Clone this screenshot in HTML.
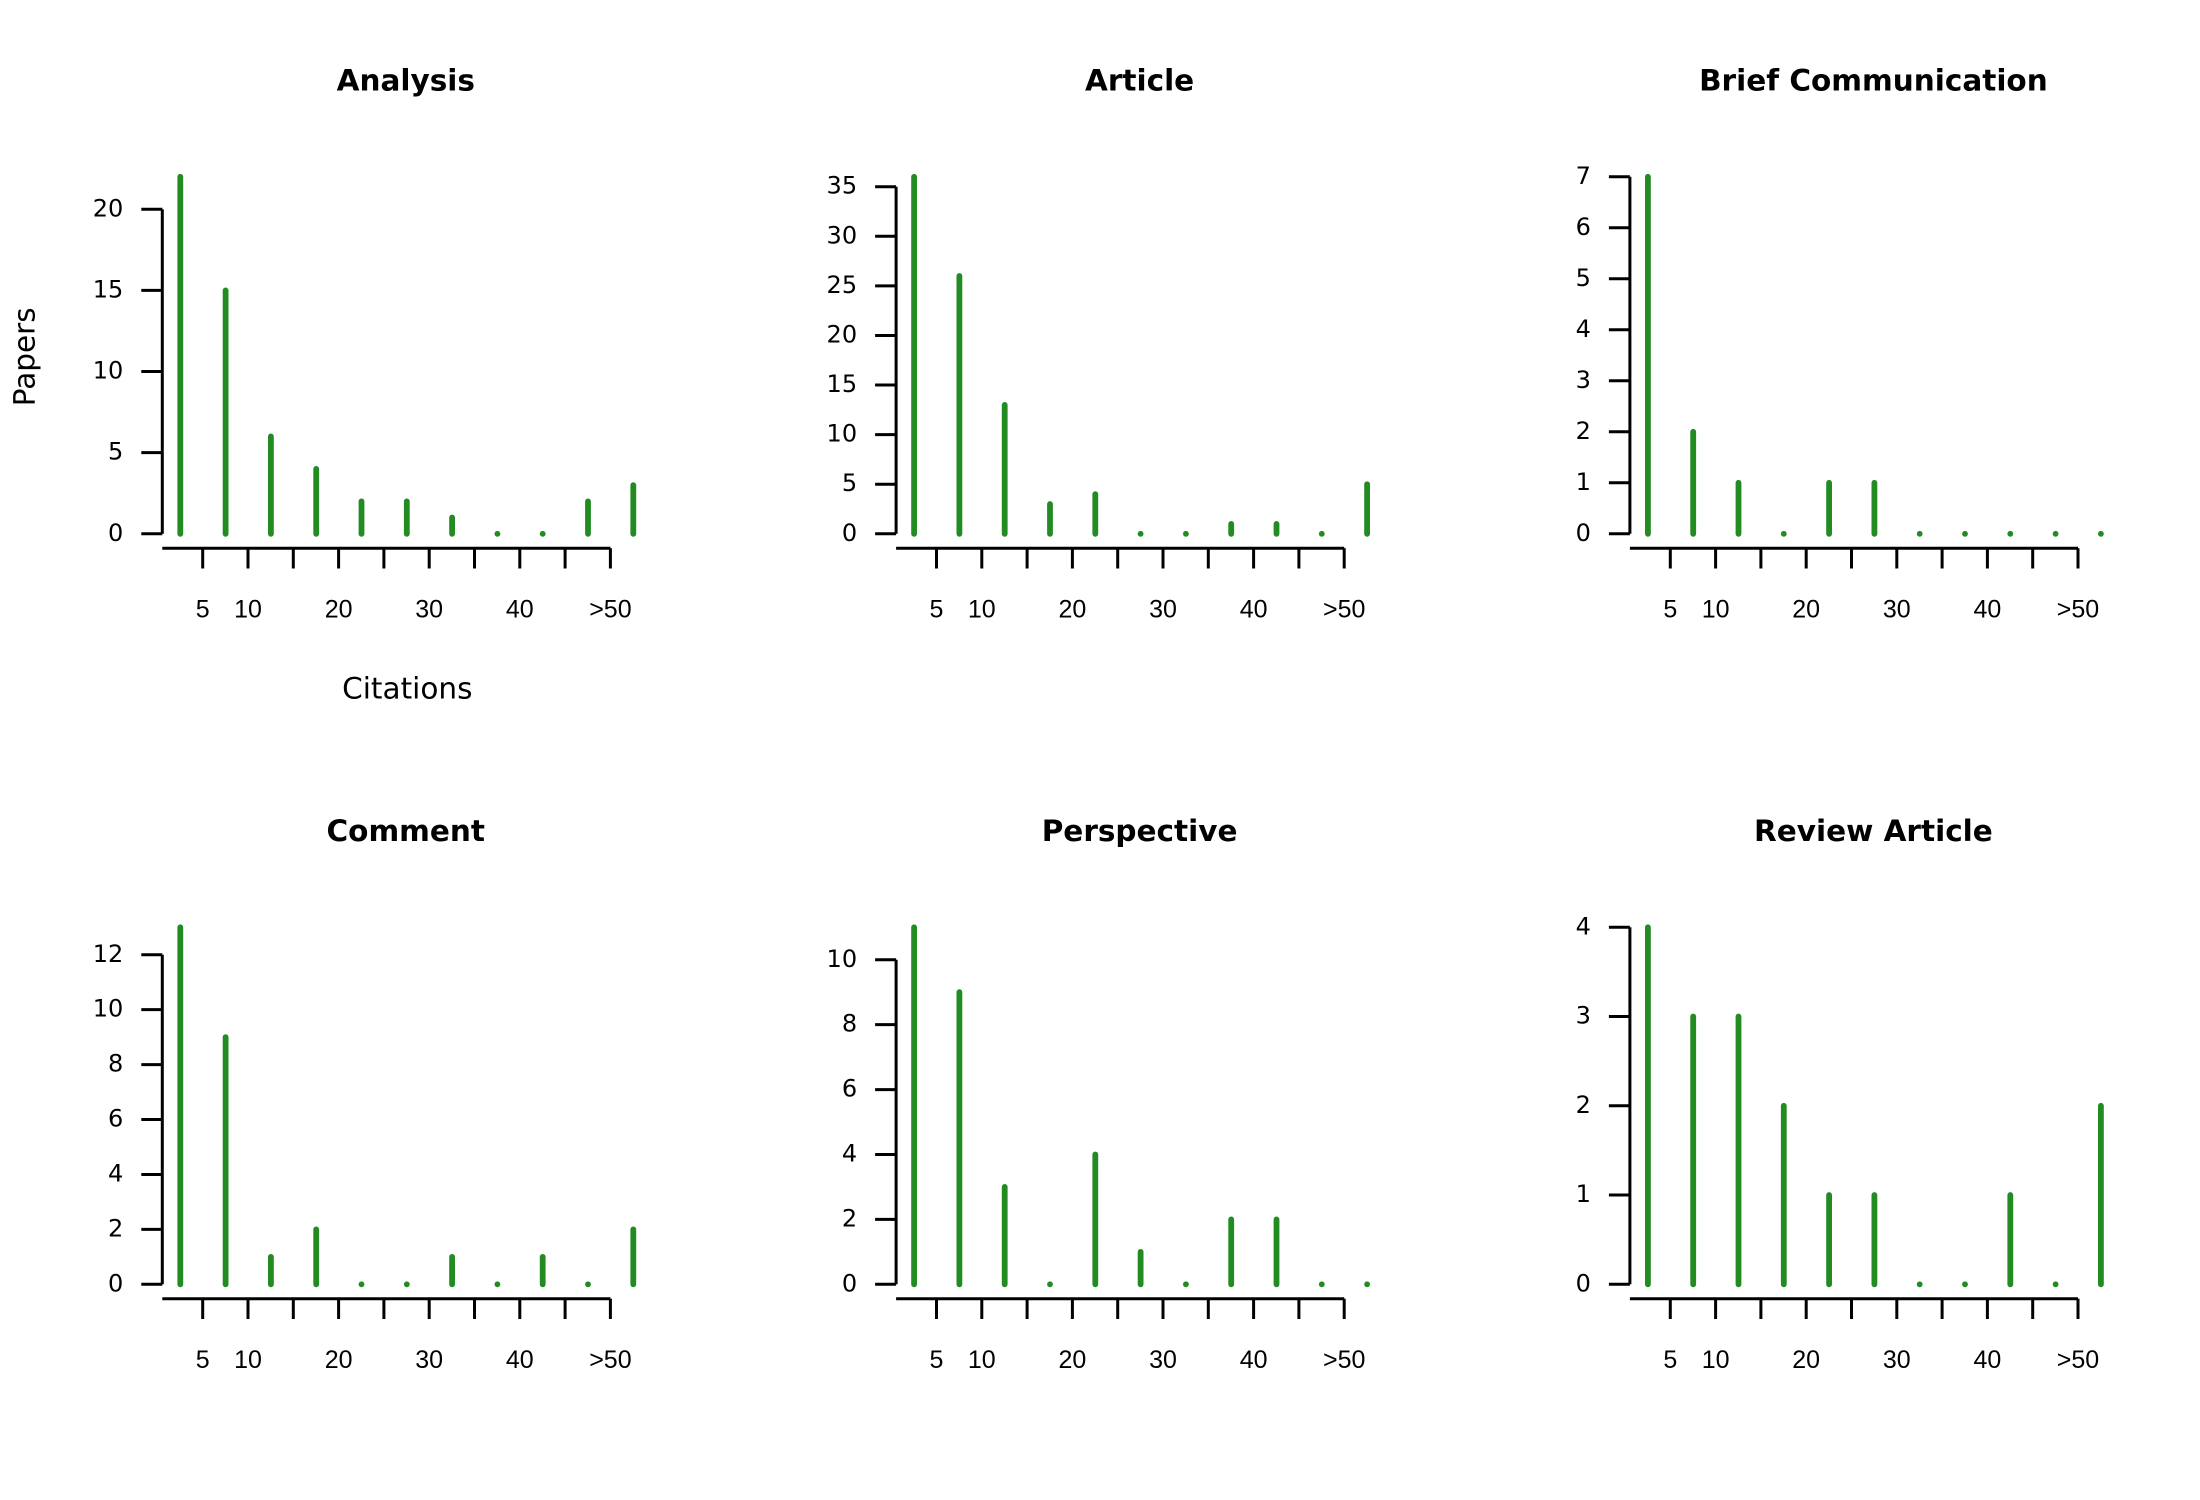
<!DOCTYPE html>
<html><head><meta charset="utf-8"><style>
html,body{margin:0;padding:0;background:#fff;}
svg{display:block;}
</style></head><body>
<svg id="chart" xmlns="http://www.w3.org/2000/svg" width="2200" height="1500" viewBox="0 0 2200 1500"></svg>
<script>
const panelTitles = ["Analysis", "Article", "Brief Communication", "Comment", "Perspective", "Review Article"];
const binLabels = ["0-5","5-10","10-15","15-20","20-25","25-30","30-35","35-40","40-45","45-50",">50"];
const analysisValues = [22,15,6,4,2,2,1,0,0,2,3];
const articleValues = [36,26,13,3,4,0,0,1,1,0,5];
const briefValues = [7,2,1,0,1,1,0,0,0,0,0];
const commentValues = [13,9,1,2,0,0,1,0,1,0,2];
const perspectiveValues = [11,9,3,0,4,1,0,2,2,0,0];
const reviewValues = [4,3,3,2,1,1,0,0,1,0,2];
const yTickSteps = [5,5,1,2,2,1];
const xTickLabels = ["5","10","","20","","30","","40","",">50"];

const seriesList = [analysisValues, articleValues, briefValues, commentValues, perspectiveValues, reviewValues];
const NS = "http://www.w3.org/2000/svg";
const svg = document.getElementById("chart");
function mk(tag, attrs, parent){
  const e = document.createElementNS(NS, tag);
  for (const k in attrs) e.setAttribute(k, attrs[k]);
  (parent||svg).appendChild(e);
  return e;
}
const SANS = "'DejaVu Sans', 'Liberation Sans', sans-serif";
const ARIAL = "'Liberation Sans', sans-serif";

seriesList.forEach((vals, p) => {
  const col = p % 3, row = Math.floor(p / 3);
  const ax = 162.3 + col * 733.8;
  const y0 = 533.8 + row * 750.5;
  const maxV = Math.max(...vals);
  const yScale = v => y0 - v / maxV * 357;
  const xBar = i => ax + 18 + i * 45.3;
  const xTick = i => ax + 40.4 + i * 45.3;
  const g = mk("g", {});
  
  

  const t = mk("text", {x: ax + 243.5, y: y0 - 452, "text-anchor": "middle", "dominant-baseline": "middle", "font-family": SANS, "font-weight": "bold", "font-size": 29.5, fill: "#000"}, g);
  t.textContent = panelTitles[p];
  
  

  const step = yTickSteps[p];
  const topTick = Math.floor(maxV / step) * step;
  const yl = mk("line", {x1: ax, x2: ax, y1: yScale(0), y2: yScale(topTick), stroke: "#000", "stroke-width": 3}, g);
  
  
  for (let v = 0; v <= topTick; v += step) {
    const tk = mk("line", {x1: ax - 21, x2: ax, y1: yScale(v), y2: yScale(v), stroke: "#000", "stroke-width": 3}, g);
    
    
    const lb = mk("text", {x: ax - 39, y: yScale(v), "text-anchor": "end", "dominant-baseline": "middle", "font-family": SANS, "font-size": 24, fill: "#000"}, g);
    lb.textContent = v;
    
    
  }
  const xl = mk("line", {x1: ax, x2: xTick(9), y1: y0 + 14.4, y2: y0 + 14.4, stroke: "#000", "stroke-width": 3}, g);
  
  
  xTickLabels.forEach((lab, i) => {
    const tk = mk("line", {x1: xTick(i), x2: xTick(i), y1: y0 + 14.4, y2: y0 + 34.7, stroke: "#000", "stroke-width": 3}, g);
    
    
    if (lab) {
      const lb = mk("text", {x: xTick(i), y: y0 + 77, "text-anchor": "middle", "dominant-baseline": "middle", "font-family": ARIAL, "font-size": 25, fill: "#000"}, g);
      lb.textContent = lab;
      
      
    }
  });
  vals.forEach((v, i) => {
    const b = mk("line", {x1: xBar(i), x2: xBar(i), y1: yScale(0), y2: yScale(v), stroke: "#228B22", "stroke-width": 5.8, "stroke-linecap": "round"}, g);
    
    
  });

  if (p === 0) {
    const xt = mk("text", {x: ax + 245, y: y0 + 156, "text-anchor": "middle", "dominant-baseline": "middle", "font-family": SANS, "font-size": 29.5, fill: "#000"}, g);
    xt.textContent = "Citations";
    
    
    const yt = mk("text", {x: 0, y: 0, transform: "translate(26," + (y0 - 177) + ") rotate(-90)", "text-anchor": "middle", "dominant-baseline": "middle", "font-family": SANS, "font-size": 29.5, fill: "#000"}, g);
    yt.textContent = "Papers";
    
    
  }
});
</script>
</body></html>
